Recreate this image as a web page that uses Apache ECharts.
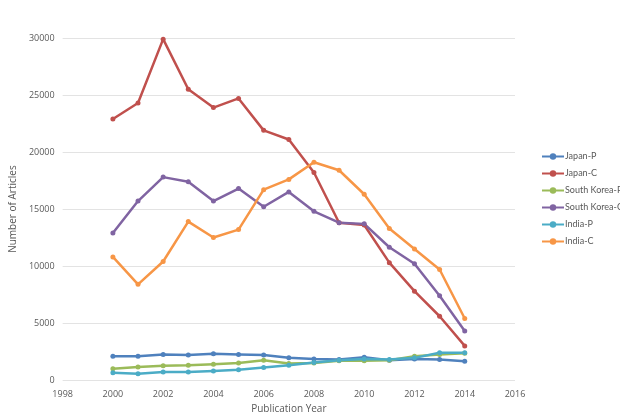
<!DOCTYPE html>
<html><head><meta charset="utf-8">
<script src="https://cdn.jsdelivr.net/npm/echarts@6/dist/echarts.min.js"></script>
<style>html,body{margin:0;padding:0;background:#fff}#c{width:620px;height:419px}</style>
</head><body><div id="c"></div>
<script>
const years = [2000,2001,2002,2003,2004,2005,2006,2007,2008,2009,2010,2011,2012,2013,2014];
const japanP = [2100,2100,2250,2200,2300,2250,2200,1950,1850,1800,2000,1750,1850,1800,1650];
const japanC = [22900,24300,29900,25500,23900,24700,21900,21100,18200,13800,13600,10300,7800,5600,3000];
const koreaP = [1000,1150,1250,1300,1400,1500,1750,1450,1500,1700,1700,1750,2100,2250,2350];
const koreaC = [12900,15700,17800,17400,15700,16800,15200,16500,14800,13800,13700,11650,10200,7400,4300];
const indiaP = [650,550,700,700,800,900,1100,1300,1550,1750,1850,1800,1950,2400,2400];
const indiaC = [10800,8400,10400,13900,12500,13200,16700,17600,19100,18400,16300,13300,11500,9700,5400];
const seriesNames = ['Japan-P','Japan-C','South Korea-P','South Korea-C','India-P','India-C'];
const seriesData = [japanP,japanC,koreaP,koreaC,indiaP,indiaC];
const colors = ['#4F81BD','#C0504D','#9BBB59','#8064A2','#4BACC6','#F79646'];
const chart = echarts.init(document.getElementById('c'));
chart.setOption({
  animation:false,
  color:colors,
  textStyle:{fontFamily:'Open Sans, Liberation Sans, sans-serif'},
  grid:{left:50,right:105,top:38,bottom:38},
  legend:{orient:'vertical',left:536,top:147,width:90,itemGap:8,itemWidth:22,itemHeight:8,
    textStyle:{fontSize:9,color:'#595959',padding:[0,0,0,-4],width:90,overflow:'none',
      fontFamily:'Lato, sans-serif'},
    data:seriesNames},
  xAxis:{type:'value',min:1998,max:2016,interval:2,
    name:'Publication Year',nameLocation:'middle',nameGap:21,
    nameTextStyle:{fontSize:10,color:'#595959'},
    axisLine:{show:false},axisTick:{show:false},splitLine:{show:false},
    axisLabel:{fontSize:9,color:'#595959',margin:10,formatter:v=>String(v)}},
  yAxis:{type:'value',min:0,max:30000,interval:5000,
    name:'Number of Articles',nameLocation:'middle',nameGap:42,nameRotate:90,
    nameTextStyle:{fontSize:10,color:'#595959'},
    axisLine:{show:false},axisTick:{show:false},
    splitLine:{lineStyle:{color:'#e3e3e3',width:1}},
    axisLabel:{fontSize:9,color:'#595959',margin:8,formatter:v=>String(v)}},
  series:seriesNames.map((n,i)=>({
    name:n,type:'line',data:years.map((y,j)=>[y,seriesData[i][j]]),
    symbol:'circle',symbolSize:5,lineStyle:{width:2.5},
    itemStyle:{color:colors[i]}
  }))
});
</script></body></html>
